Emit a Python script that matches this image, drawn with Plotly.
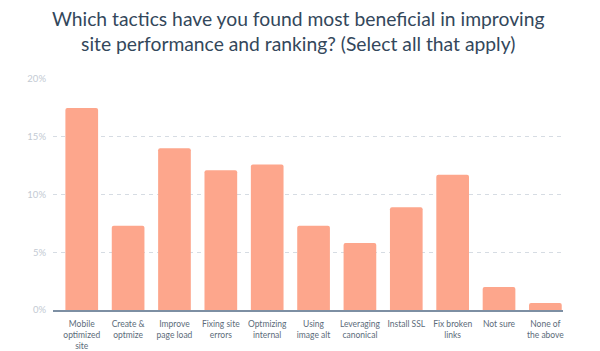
import plotly.graph_objects as go

categories = [
    "Mobile<br>optimized<br>site", "Create &<br>optmize", "Improve<br>page load",
    "Fixing site<br>errors", "Optmizing<br>internal", "Using<br>image alt",
    "Leveraging<br>canonical", "Install SSL", "Fix broken<br>links",
    "Not sure", "None of<br>the above",
]
values = [17.5, 7.3, 14.0, 12.1, 12.6, 7.3, 5.8, 8.9, 11.7, 2.0, 0.6]
y_ticks = [0, 5, 10, 15, 20]
y_tick_labels = ["0%", "5%", "10%", "15%", "20%"]
title_text = ("Which tactics have you found most beneficial in improving<br>"
              "site performance and ranking? (Select all that apply)")

fig = go.Figure(go.Bar(
    x=list(range(len(categories))), y=values,
    marker=dict(color="#fda68c", line=dict(width=0), cornerradius=2),
    width=0.705, hoverinfo="skip",
))

fig.update_layout(
    width=600, height=351, autosize=False,
    margin=dict(l=53, r=37, t=79, b=41),
    paper_bgcolor="white", plot_bgcolor="white",
    showlegend=False,
    font=dict(family="Lato", color="#33475b"),
    title=dict(text=title_text, xref="container", x=0.497, xanchor="center",
               yref="container", y=1 - 26 / 351, yanchor="middle",
               font=dict(family="Lato", size=19.3, color="#33475b")),
)
fig.update_xaxes(
    tickmode="array", tickvals=list(range(len(categories))), ticktext=categories,
    range=[-0.62, 10.38], showgrid=False, zeroline=False,
    showline=True, linecolor="#7d8fa3", linewidth=1.5,
    tickfont=dict(family="Lato", size=8.5, color="#5c6b7a"), ticks="",
    tickangle=0, automargin=False, ticklabelstandoff=5,
)
fig.update_yaxes(
    range=[0, 20], tickmode="array", tickvals=y_ticks, ticktext=y_tick_labels,
    showgrid=True, gridcolor="#d6dce3", griddash="4px,4px", gridwidth=1,
    zeroline=False, showline=False, ticks="", automargin=False,
    tickfont=dict(family="Lato", size=9.5, color="#c3cad3"),
    ticklabelstandoff=6,
)

fig.write_html("out.html")
